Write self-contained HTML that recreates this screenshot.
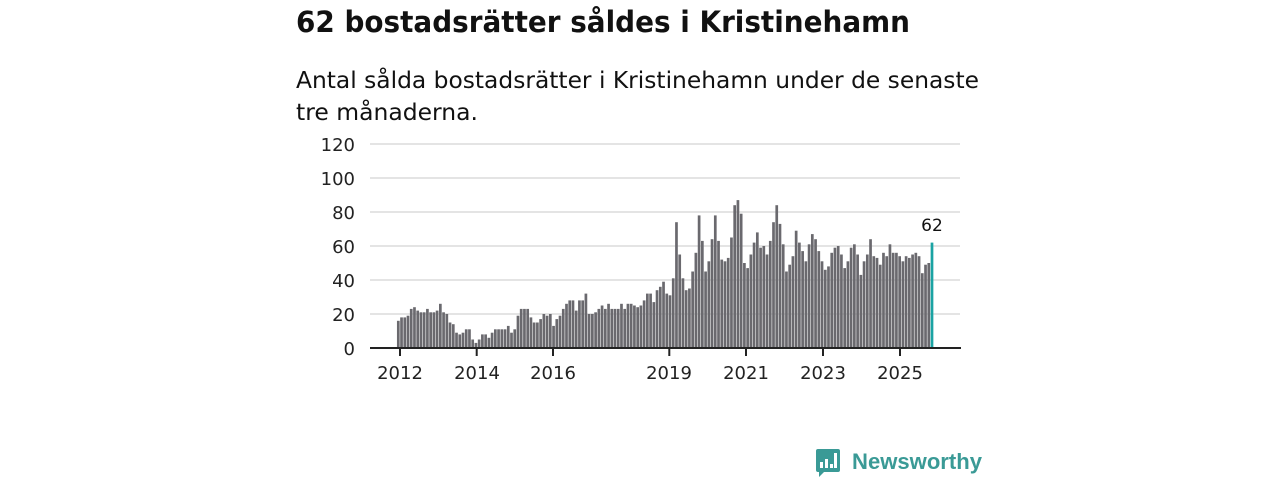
<!DOCTYPE html>
<html><head><meta charset="utf-8"><style>
html,body{margin:0;padding:0;background:#fff;width:1280px;height:480px;overflow:hidden}
svg{display:block}
</style></head><body>
<svg id="c" width="1280" height="480" xmlns="http://www.w3.org/2000/svg" font-family="'DejaVu Sans','Liberation Sans',sans-serif">
<text x="296" y="32" font-size="29" font-weight="bold" fill="#111" textLength="614" lengthAdjust="spacingAndGlyphs">62 bostadsrätter såldes i Kristinehamn</text>
<text x="296" y="88" font-size="23" fill="#111" textLength="683" lengthAdjust="spacingAndGlyphs">Antal sålda bostadsrätter i Kristinehamn under de senaste</text>
<text x="296" y="120" font-size="23" fill="#111" textLength="182" lengthAdjust="spacingAndGlyphs">tre månaderna.</text>
<g stroke="#dcdcdc" stroke-width="1.5">
<line x1="370" x2="960" y1="144" y2="144"/><line x1="370" x2="960" y1="178" y2="178"/>
<line x1="370" x2="960" y1="212" y2="212"/><line x1="370" x2="960" y1="246" y2="246"/>
<line x1="370" x2="960" y1="280" y2="280"/><line x1="370" x2="960" y1="314" y2="314"/>
</g>
<g font-size="18" fill="#222" text-anchor="end">
<text x="355" y="151">120</text><text x="355" y="185">100</text><text x="355" y="219">80</text>
<text x="355" y="253">60</text><text x="355" y="287">40</text><text x="355" y="321">20</text><text x="355" y="355">0</text>
</g>
<g id="bars"></g>
<line x1="370" x2="961" y1="348" y2="348" stroke="#222" stroke-width="2"/>
<g stroke="#222" stroke-width="2">
<line x1="400" x2="400" y1="348" y2="356"/><line x1="476.7" x2="476.7" y1="348" y2="356"/>
<line x1="553" x2="553" y1="348" y2="356"/><line x1="669.3" x2="669.3" y1="348" y2="356"/>
<line x1="746" x2="746" y1="348" y2="356"/><line x1="823" x2="823" y1="348" y2="356"/>
<line x1="900" x2="900" y1="348" y2="356"/>
</g>
<g font-size="18" fill="#222" text-anchor="middle">
<text x="400" y="379">2012</text><text x="477" y="379">2014</text><text x="553" y="379">2016</text>
<text x="669" y="379">2019</text><text x="746" y="379">2021</text><text x="823" y="379">2023</text><text x="900" y="379">2025</text>
</g>
<text x="932" y="231" font-size="17" fill="#111" text-anchor="middle">62</text>
<g fill="#3a9a96">
<path d="M816 449 h22 a2 2 0 0 1 2 2 v19 a2 2 0 0 1 -2 2 h-14 l-5 5 v-5 h-1 a2 2 0 0 1 -2 -2 v-19 a2 2 0 0 1 2 -2z"/>
<text x="852" y="469" font-size="22" font-weight="bold" font-family="'Liberation Sans',sans-serif" textLength="130" lengthAdjust="spacingAndGlyphs">Newsworthy</text>
</g>
<g fill="#fff"><rect x="820" y="462" width="3" height="6"/><rect x="825" y="459" width="3" height="9"/><rect x="830" y="464" width="3" height="4"/><rect x="834" y="453" width="3" height="15"/></g>
</svg>
<script>
var v=[16,18,18,19,23,24,22,21,21,23,21,21,22,26,21,20,15,14,9,8,9,11,11,5,3,5,8,8,6,9,11,11,11,11,13,9,11,19,23,23,23,18,15,15,17,20,19,20,13,17,19,23,
26,28,28,22,28,28,32,20,20,21,23,25,23,26,23,23,23,26,23,26,26,25,24,25,28,32,32,27,34,36,39,32,31,41,74,55,41,34,35,45,56,78,63,45,51,64,78,63,52,51,53,65,84,87,79,50,47,55,62,68,
59,60,55,63,74,84,73,61,45,49,54,69,62,57,51,61,67,64,57,51,46,48,56,59,60,55,47,51,59,61,55,43,51,55,64,54,53,49,56,54,61,56,56,54,51,54,53,55,56,54,44,49,50,62];
var g=document.getElementById('bars'),s='',n=v.length,x0=398.3,x1=932,p=(x1-x0)/(n-1);
for(var i=0;i<n;i++){var h=v[i]*1.7,x=x0+i*p-1.35;
s+='<rect x="'+x.toFixed(2)+'" y="'+(348-h).toFixed(2)+'" width="2.7" height="'+h.toFixed(2)+'" fill="'+(i==n-1?'#1aa3a3':'#6a696e')+'"/>';}
g.innerHTML=s;
</script>
</body></html>
